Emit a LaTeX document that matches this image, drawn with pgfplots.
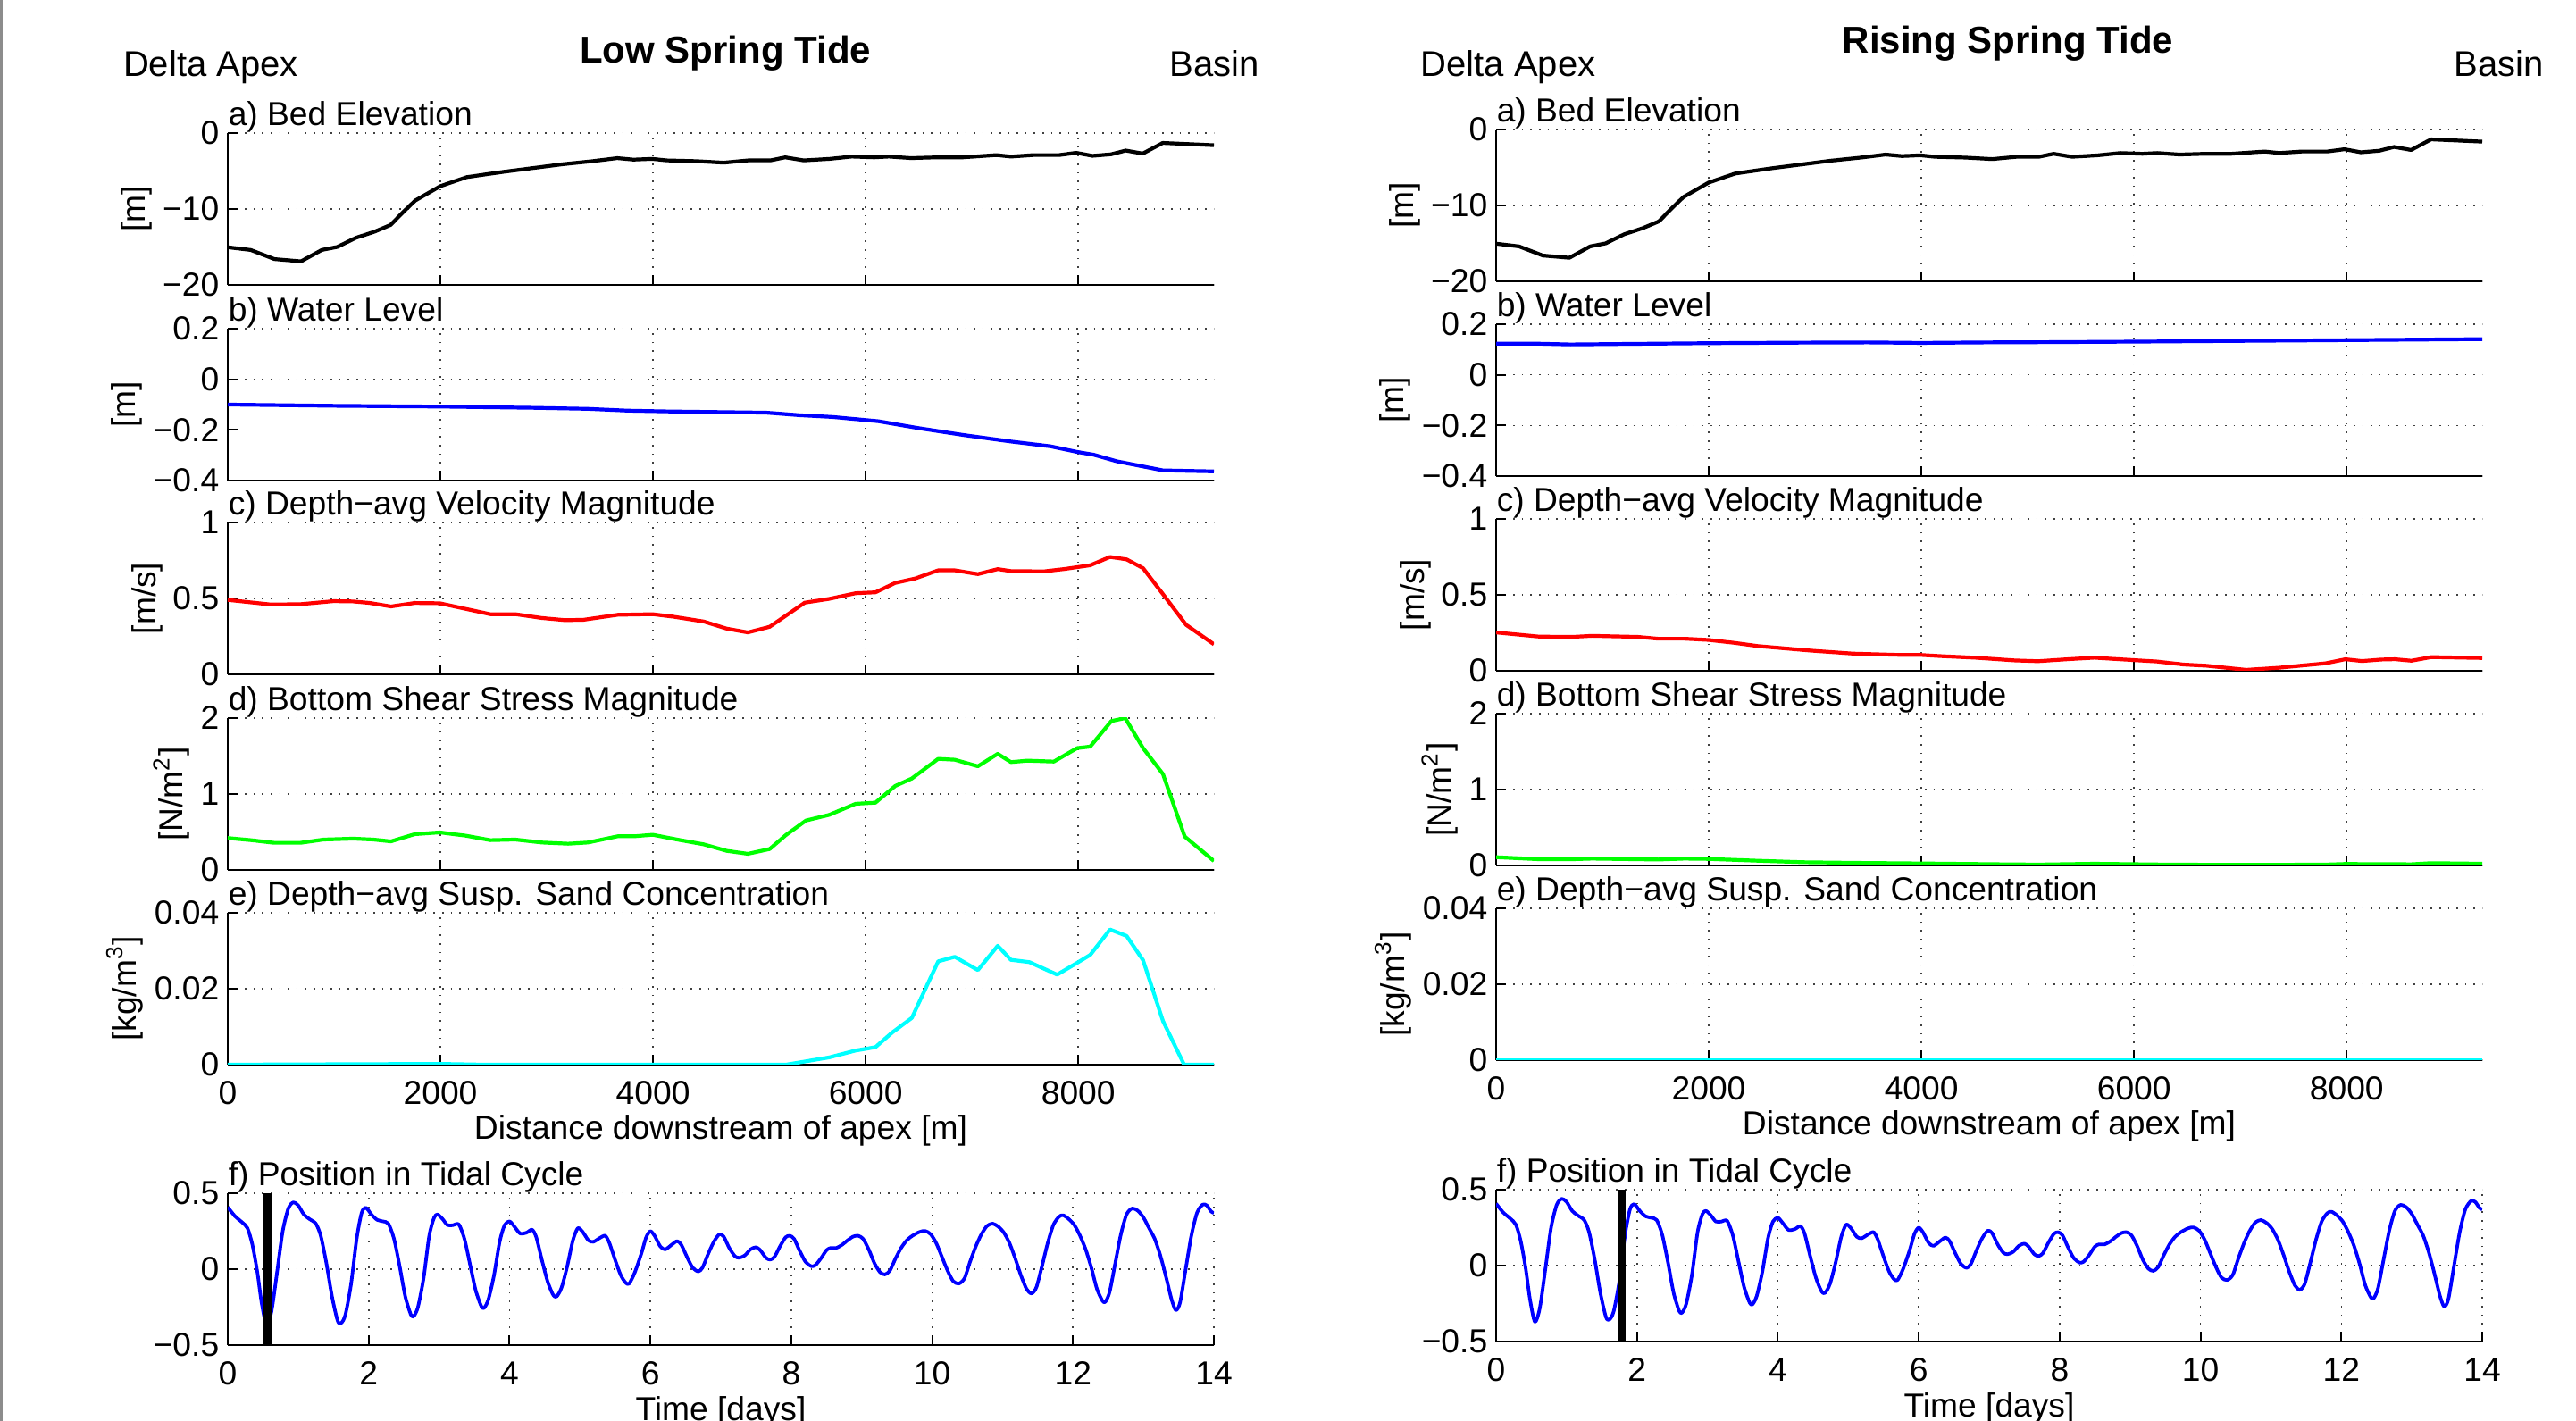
\documentclass[border=0pt]{standalone}
\usepackage{fontspec}
\setmainfont{Liberation Sans}
\usepackage{pgfplots}
\usepackage{pgfplotstable}
\pgfplotsset{compat=1.18}
\newcommand{\fs}{\fontsize{9.3}{11}\selectfont}
\definecolor{mblue}{rgb}{0,0,1}
\definecolor{mred}{rgb}{1,0,0}
\definecolor{mgreen}{rgb}{0,1,0}
\definecolor{mcyan}{rgb}{0,1,1}

\pgfplotstableread{
x y
0 -15.04
216 -15.4
439 -16.6
689 -16.9
884 -15.4
1030 -15.0
1205 -13.8
1379 -13.0
1532 -12.1
1643 -10.5
1762 -8.9
1998 -7.0
2249 -5.8
2597 -5.1
3154 -4.1
3433 -3.7
3663 -3.3
3816 -3.5
3990 -3.4
4129 -3.6
4408 -3.7
4665 -3.9
4895 -3.6
5104 -3.6
5243 -3.2
5417 -3.6
5661 -3.4
5870 -3.1
6079 -3.2
6218 -3.1
6427 -3.3
6671 -3.2
6914 -3.2
7228 -2.9
7367 -3.1
7576 -2.9
7819 -2.9
7980 -2.6
8133 -3.0
8307 -2.8
8446 -2.3
8606 -2.7
8794 -1.3
9275 -1.6
}\bed

\pgfplotstableread{
t v
0.00 0.408
0.10 0.35
0.20 0.31
0.28 0.27
0.35 0.16
0.42 -0.02
0.48 -0.22
0.55 -0.37
0.62 -0.28
0.70 -0.02
0.78 0.25
0.86 0.40
0.93 0.44
1.00 0.42
1.08 0.36
1.16 0.33
1.25 0.30
1.32 0.22
1.40 0.04
1.48 -0.18
1.56 -0.34
1.61 -0.355
1.67 -0.30
1.75 -0.10
1.83 0.20
1.90 0.37
1.96 0.405
2.04 0.36
2.12 0.325
2.20 0.315
2.28 0.30
2.36 0.20
2.44 0.02
2.52 -0.18
2.60 -0.30
2.64 -0.31
2.70 -0.25
2.78 -0.06
2.86 0.22
2.93 0.34
2.98 0.36
3.05 0.33
3.12 0.29
3.20 0.29
3.28 0.295
3.36 0.20
3.44 0.03
3.52 -0.14
3.60 -0.245
3.64 -0.255
3.70 -0.20
3.78 -0.04
3.86 0.18
3.93 0.29
4.00 0.315
4.07 0.28
4.15 0.235
4.24 0.24
4.32 0.26
4.38 0.21
4.46 0.06
4.54 -0.08
4.62 -0.17
4.67 -0.18
4.74 -0.12
4.82 0.02
4.90 0.19
4.97 0.27
5.04 0.245
5.12 0.19
5.19 0.18
5.28 0.205
5.36 0.22
5.42 0.17
5.50 0.06
5.58 -0.04
5.65 -0.09
5.70 -0.095
5.78 -0.02
5.87 0.10
5.94 0.21
6.00 0.25
6.06 0.22
6.14 0.15
6.21 0.13
6.30 0.16
6.38 0.185
6.44 0.16
6.52 0.08
6.60 0.01
6.68 -0.015
6.74 0.01
6.82 0.10
6.90 0.18
6.98 0.23
7.04 0.215
7.12 0.14
7.20 0.085
7.26 0.075
7.34 0.09
7.42 0.13
7.50 0.145
7.56 0.125
7.64 0.075
7.70 0.063
7.76 0.08
7.84 0.15
7.92 0.21
7.98 0.22
8.04 0.20
8.12 0.12
8.20 0.05
8.28 0.02
8.34 0.025
8.42 0.07
8.50 0.125
8.56 0.14
8.64 0.14
8.72 0.16
8.80 0.19
8.88 0.215
8.95 0.22
9.02 0.20
9.10 0.13
9.18 0.04
9.26 -0.02
9.33 -0.035
9.40 -0.01
9.48 0.07
9.56 0.14
9.64 0.19
9.72 0.22
9.82 0.245
9.90 0.252
9.98 0.23
10.06 0.17
10.14 0.08
10.22 -0.01
10.30 -0.08
10.38 -0.095
10.46 -0.06
10.54 0.05
10.62 0.15
10.70 0.23
10.78 0.285
10.86 0.30
10.94 0.28
11.02 0.24
11.10 0.17
11.18 0.07
11.26 -0.04
11.34 -0.13
11.41 -0.16
11.48 -0.12
11.56 0.02
11.64 0.17
11.72 0.29
11.80 0.345
11.86 0.355
11.94 0.33
12.02 0.29
12.10 0.22
12.18 0.13
12.26 0.01
12.34 -0.13
12.42 -0.21
12.46 -0.215
12.52 -0.15
12.60 0.04
12.68 0.23
12.76 0.36
12.84 0.40
12.92 0.385
13.00 0.34
13.08 0.27
13.16 0.20
13.24 0.09
13.32 -0.05
13.40 -0.20
13.46 -0.27
13.52 -0.22
13.60 0.00
13.68 0.22
13.76 0.37
13.84 0.425
13.90 0.42
13.96 0.38
14.00 0.37
}\tide

\pgfplotsset{
 every axis title/.style={at={(0,1)}, anchor=base west, inner sep=0pt, yshift=2pt, font=\fs},
 panel/.style={
  scale only axis, width=276pt, height=42.5pt, anchor=north west,
  xmin=0, xmax=9275,
  axis x line*=bottom, axis y line*=left,
  axis line style={-, line width=0.5pt},
  tick align=inside, major tick length=2.8pt,
  tick style={black, line width=0.5pt},
  xmajorgrids, ymajorgrids,
  major grid style={dotted, line width=0.4pt, black!75},
  xtick={0,2000,4000,6000,8000}, xticklabel=\empty,
  scaled ticks=false,
  ticklabel style={font=\fs},
  yticklabel style={anchor=east, inner sep=0pt, xshift=-2.25pt},
  xticklabel style={anchor=base, inner sep=0pt, yshift=-11.1pt},
  label style={font=\fs},
  xlabel style={at={(axis description cs:0.5,0)}, anchor=base, inner sep=0pt, yshift=-21pt},
  every axis plot/.append style={line width=1.05pt, line join=round},
 },
 yl/.style={ylabel style={at={(axis description cs:#1,0.5)}, anchor=south, inner sep=0pt, rotate=0}},
 pa/.style={ymin=-20, ymax=0, ytick={-20,-10,0}, yticklabels={−20,−10,0}, ylabel={[m]}, yl=-0.0761, title={a) Bed Elevation}},
 pb/.style={ymin=-0.4, ymax=0.2, ytick={-0.4,-0.2,0,0.2}, yticklabels={−0.4,−0.2,0,0.2}, ylabel={[m]}, yl=-0.0859, title={b) Water Level}},
 pc/.style={ymin=0, ymax=1, ytick={0,0.5,1}, yticklabels={0,0.5,1}, ylabel={[m/s]}, yl=-0.0656, title={c) Depth−avg Velocity Magnitude}},
 pd/.style={ymin=0, ymax=2, ytick={0,1,2}, yticklabels={0,1,2}, ylabel={[N/m\textsuperscript{2}]}, yl=-0.0377, title={d) Bottom Shear Stress Magnitude}},
 pe/.style={ymin=0, ymax=0.04, ytick={0,0.02,0.04}, yticklabels={0,0.02,0.04}, ylabel={[kg/m\textsuperscript{3}]}, yl=-0.0851, title={e) Depth−avg Susp. Sand Concentration},
   xticklabels={0,2000,4000,6000,8000}, xlabel={Distance downstream of apex [m]}},
 pf/.style={xmin=0, xmax=14, xtick={0,2,4,6,8,10,12,14}, xticklabels={0,2,4,6,8,10,12,14}, xlabel={Time [days]},
   ymin=-0.5, ymax=0.5, ytick={-0.5,0,0.5}, yticklabels={−0.5,0,0.5}, title={f) Position in Tidal Cycle}},
}

\begin{document}
\begin{tikzpicture}
\path[use as bounding box] (0,0) rectangle (721pt,-397.75pt);
\draw[black!45, line width=0.6pt] (0.4pt,0) -- (0.4pt,-397.75pt);

% headers
\node[anchor=base, font=\fontsize{10.5}{12}\selectfont\bfseries, inner sep=0pt] at (203pt,-17.7pt) {Low Spring Tide};
\node[anchor=base west, font=\fontsize{10}{12}\selectfont, inner sep=0pt] at (34.3pt,-21.5pt) {Delta Apex};
\node[anchor=base east, font=\fontsize{10}{12}\selectfont, inner sep=0pt] at (352.7pt,-21.5pt) {Basin};
\node[anchor=base, font=\fontsize{10.5}{12}\selectfont\bfseries, inner sep=0pt] at (562pt,-15pt) {Rising Spring Tide};
\node[anchor=base west, font=\fontsize{10}{12}\selectfont, inner sep=0pt] at (397.5pt,-21.4pt) {Delta Apex};
\node[anchor=base east, font=\fontsize{10}{12}\selectfont, inner sep=0pt] at (712.1pt,-21.4pt) {Basin};

% ===== LEFT COLUMN =====
\begin{axis}[panel, pa, at={(63.75pt,-37.25pt)}]
\addplot[black] table[x=x,y=y] {\bed};
\end{axis}

\begin{axis}[panel, pb, at={(63.75pt,-92pt)}]
\addplot[mblue] coordinates {(0,-0.10) (1026,-0.105) (1995,-0.108) (2890,-0.113) (3388,-0.117) (3761,-0.124) (4134,-0.127) (5066,-0.132) (5377,-0.142) (5688,-0.149) (6123,-0.166) (6496,-0.193) (6931,-0.221) (7366,-0.246) (7739,-0.265) (7988,-0.287) (8143,-0.298) (8361,-0.324) (8796,-0.360) (9275,-0.364)};
\end{axis}

\begin{axis}[panel, pc, at={(63.75pt,-146.25pt)}]
\addplot[mred] coordinates {(0,0.490) (404,0.460) (684,0.462) (995,0.482) (1181,0.480) (1336,0.470) (1535,0.447) (1759,0.470) (1995,0.468) (2238,0.431) (2468,0.396) (2704,0.396) (2953,0.371) (3170,0.357) (3344,0.359) (3667,0.392) (3997,0.396) (4196,0.379) (4476,0.348) (4693,0.301) (4892,0.276) (5097,0.313) (5253,0.388) (5427,0.472) (5657,0.497) (5905,0.534) (6092,0.540) (6278,0.602) (6465,0.631) (6682,0.685) (6838,0.685) (7055,0.660) (7242,0.693) (7366,0.680) (7677,0.678) (7863,0.693) (8112,0.718) (8298,0.773) (8454,0.757) (8609,0.699) (8796,0.528) (9014,0.326) (9275,0.198)};
\end{axis}

\begin{axis}[panel, pd, at={(63.75pt,-201pt)}]
\addplot[mgreen] coordinates {(0,0.420) (218,0.392) (435,0.357) (684,0.357) (901,0.400) (1181,0.412) (1368,0.400) (1535,0.376) (1759,0.471) (1995,0.494) (2238,0.451) (2468,0.392) (2704,0.400) (2953,0.361) (3201,0.345) (3388,0.361) (3667,0.443) (3823,0.443) (3997,0.463) (4227,0.400) (4476,0.337) (4693,0.251) (4892,0.212) (5097,0.275) (5253,0.463) (5439,0.651) (5657,0.725) (5905,0.871) (6092,0.886) (6278,1.106) (6434,1.204) (6682,1.463) (6838,1.451) (7055,1.365) (7242,1.529) (7366,1.420) (7521,1.439) (7770,1.427) (7988,1.604) (8112,1.624) (8311,1.961) (8441,2.0) (8609,1.604) (8796,1.263) (9001,0.439) (9275,0.118)};
\end{axis}

\begin{axis}[panel, pe, at={(63.75pt,-255.5pt)}]
\addplot[mcyan] coordinates {(0,0) (2000,0.0002) (2400,0) (5253,0) (5657,0.0019) (5905,0.0037) (6092,0.0046) (6247,0.0084) (6434,0.0123) (6682,0.0272) (6838,0.0284) (7055,0.0249) (7242,0.0313) (7366,0.0276) (7540,0.0270) (7801,0.0237) (7988,0.0268) (8112,0.0289) (8298,0.0356) (8454,0.0339) (8609,0.0275) (8796,0.0115) (8995,0) (9275,0)};
\end{axis}

\begin{axis}[panel, pf, at={(63.75pt,-334pt)}]
\addplot[mblue, line width=0.95pt, smooth, tension=0.45] table[x=t,y=v] {\tide};
\addplot[black, line width=2.4pt] coordinates {(0.557,-0.5) (0.557,0.5)};
\end{axis}

% ===== RIGHT COLUMN =====
\begin{axis}[panel, pa, at={(418.75pt,-36.25pt)}]
\addplot[black] table[x=x,y=y] {\bed};
\end{axis}

\begin{axis}[panel, pb, at={(418.75pt,-90.75pt)}]
\addplot[mblue] coordinates {(0,0.123) (400,0.123) (700,0.120) (1200,0.122) (2000,0.125) (2800,0.127) (3500,0.128) (4000,0.126) (4600,0.128) (5200,0.129) (6000,0.131) (7000,0.134) (8000,0.137) (9275,0.141)};
\end{axis}

\begin{axis}[panel, pc, at={(418.75pt,-145.25pt)}]
\addplot[mred] coordinates {(0,0.252) (404,0.225) (715,0.223) (901,0.230) (1336,0.223) (1523,0.211) (1771,0.211) (1995,0.203) (2238,0.184) (2468,0.162) (2704,0.148) (2953,0.133) (3357,0.113) (3761,0.105) (3997,0.104) (4196,0.096) (4507,0.086) (4880,0.068) (5097,0.063) (5377,0.076) (5626,0.086) (5905,0.074) (6216,0.061) (6465,0.041) (6682,0.033) (7055,0.006) (7366,0.020) (7801,0.049) (7988,0.076) (8143,0.064) (8330,0.074) (8454,0.076) (8609,0.066) (8796,0.090) (9275,0.084)};
\end{axis}

\begin{axis}[panel, pd, at={(418.75pt,-199.75pt)}]
\addplot[mgreen] coordinates {(0,0.109) (404,0.082) (715,0.082) (901,0.090) (1523,0.078) (1771,0.090) (1995,0.086) (2455,0.0625) (2890,0.043) (3357,0.035) (3997,0.027) (4755,0.016) (5097,0.012) (5626,0.023) (6309,0.012) (7055,0.008) (7801,0.012) (7988,0.020) (8609,0.016) (8796,0.031) (9275,0.023)};
\end{axis}

\begin{axis}[panel, pe, at={(418.75pt,-254.25pt)}]
\addplot[mcyan] coordinates {(0,0) (9275,0)};
\end{axis}

\begin{axis}[panel, pf, at={(418.75pt,-333pt)}]
\addplot[mblue, line width=0.95pt, smooth, tension=0.45] table[x=t,y=v] {\tide};
\addplot[black, line width=2.4pt] coordinates {(1.78,-0.5) (1.78,0.5)};
\end{axis}
\end{tikzpicture}
\end{document}
